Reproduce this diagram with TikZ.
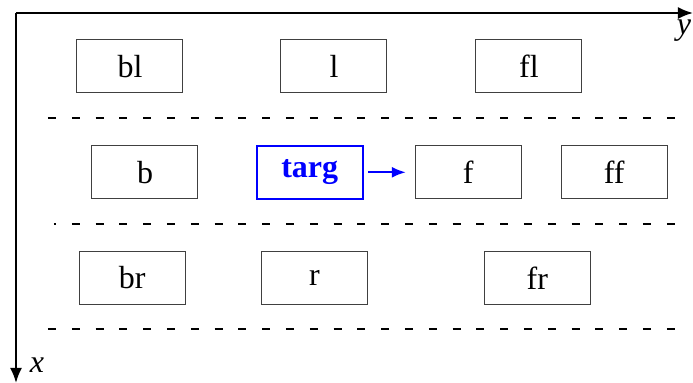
\documentclass[tikz,border=0pt]{standalone}
\usepackage{fontspec}
\setmainfont{Liberation Serif}
\usetikzlibrary{arrows.meta}
\definecolor{targblue}{RGB}{0,0,255}
\tikzset{cell/.style={draw=black!75,line width=0.5pt,minimum width=53pt,minimum height=26.5pt,inner sep=0pt},
         target/.style={cell,draw=targblue,line width=1pt,text=targblue,font=\fontsize{16}{19}\selectfont\bfseries},
         lane/.style={line width=1.2pt,dash pattern=on 4pt off 7.9pt},
         axis/.style={line width=1pt,-{Latex[length=7.5pt,width=6pt]}},
         move/.style={draw=targblue,line width=1pt,-{Latex[length=7pt,width=5.5pt]}}}

\begin{document}
\begin{tikzpicture}[x=0.5pt,y=-0.5pt,font=\fontsize{16}{19}\selectfont]
  \useasboundingbox (0,0) rectangle (693,383);
  % axes
  \coordinate (o) at (16,13);
  \coordinate (yend) at (693,13);
  \coordinate (xend) at (16,383);
  \draw[axis] (o) -- (yend);
  \draw[axis] (o) -- (xend);
  \node (ylab) at (684,31) {\textit{y}};
  \node (xlab) at (37,365) {\textit{x}};
  % lane markings
  \draw[lane] (48,118) -- (680,118);
  \draw[lane,dash phase=3pt] (54,224) -- (680,224);
  \draw[lane] (48,329) -- (680,329);
  % left lane
  \node[cell] (bl) at (130,66.5) {bl};
  \node[cell] (l) at (334,66.5) {l};
  \node[cell] (fl) at (529,66.5) {fl};
  % own lane
  \node[cell] (b) at (145,172.3) {b};
  \node[target] (targ) at (309.7,172.3) {targ};
  \node[cell] (f) at (468.3,172.3) {f};
  \node[cell] (ff) at (614.2,172.3) {ff};
  \draw[move,shorten <=2.3pt,shorten >=4.5pt] (targ) -- (f);
  % right lane
  \node[cell] (br) at (132.3,278) {br};
  \node[cell] (r) at (314.5,278) {r};
  \node[cell] (fr) at (537.3,278) {fr};
\end{tikzpicture}
\end{document}
